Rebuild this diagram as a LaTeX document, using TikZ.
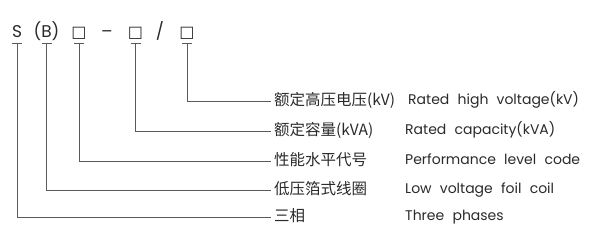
\documentclass[tikz,border=0pt]{standalone}
\usepackage{fontspec}
\usepackage{xcolor}
\setmainfont[WordSpace=2.2]{Poppins}
\newfontfamily\cjk{Noto Sans CJK SC}
\newfontfamily\symb{DejaVu Sans}
\usetikzlibrary{positioning}
\definecolor{inkgray}{HTML}{2A2A2A}
\definecolor{leadgray}{HTML}{5A5A5A}

\begin{document}
\begin{tikzpicture}[x={(1pt,0)},y={(0,-1pt)},font=\fontsize{14}{16}\selectfont,
  code/.style={anchor=south,inner sep=0pt,text height=11pt,text depth=5pt,text=inkgray,font=\fontsize{17}{19}\selectfont},
  cnlab/.style={anchor=west,inner xsep=3pt,text=inkgray,text height=11pt,text depth=2pt,font=\cjk\fontsize{15.5}{17}\selectfont},
  enlab/.style={anchor=west,inner xsep=0pt,text=inkgray,text height=10pt,text depth=3pt},
  lead/.style={draw=leadgray,line width=0.9pt}]
\useasboundingbox (0,0) rectangle (600,248);
% type code
\node[code] (s) at (17,43) {S};
\node[code] (b) at (46.5,43) {(B)};
\node[code] (box1) at (79,43) {\symb\fontsize{16}{18}\selectfont □};
\node[code] (dash) at (107,43) {–};
\node[code] (box2) at (135.5,43) {\symb\fontsize{16}{18}\selectfont □};
\node[code] (slash) at (160,43) {/};
\node[code] (box3) at (187,43) {\symb\fontsize{16}{18}\selectfont □};
% meanings
\node[cnlab] (cn1) at (271,101) {额定高压电压(kV)};
\node[cnlab] (cn2) at (271,131) {额定容量(kVA)};
\node[cnlab] (cn3) at (271,161) {性能水平代号};
\node[cnlab] (cn4) at (271,190) {低压箔式线圈};
\node[cnlab] (cn5) at (271,217) {三相};
\node[enlab] (en1) at (408,101) {Rated high voltage(kV)};
\node[enlab] (en2) at (405,131) {Rated capacity(kVA)};
\node[enlab] (en3) at (405,161) {Performance level code};
\node[enlab] (en4) at (405,190) {Low voltage foil coil};
\node[enlab] (en5) at (405,217) {Three phases};
% leaders
\foreach \c in {s,b,box1,box2,box3}
  \draw[lead] (\c.south) ++(-5,0) -- ++(10,0);
\draw[lead] (box3.south) |- (cn1.west);
\draw[lead] (box2.south) |- (cn2.west);
\draw[lead] (box1.south) |- (cn3.west);
\draw[lead] (b.south) |- (cn4.west);
\draw[lead] (s.south) |- (cn5.west);
\end{tikzpicture}
\end{document}
